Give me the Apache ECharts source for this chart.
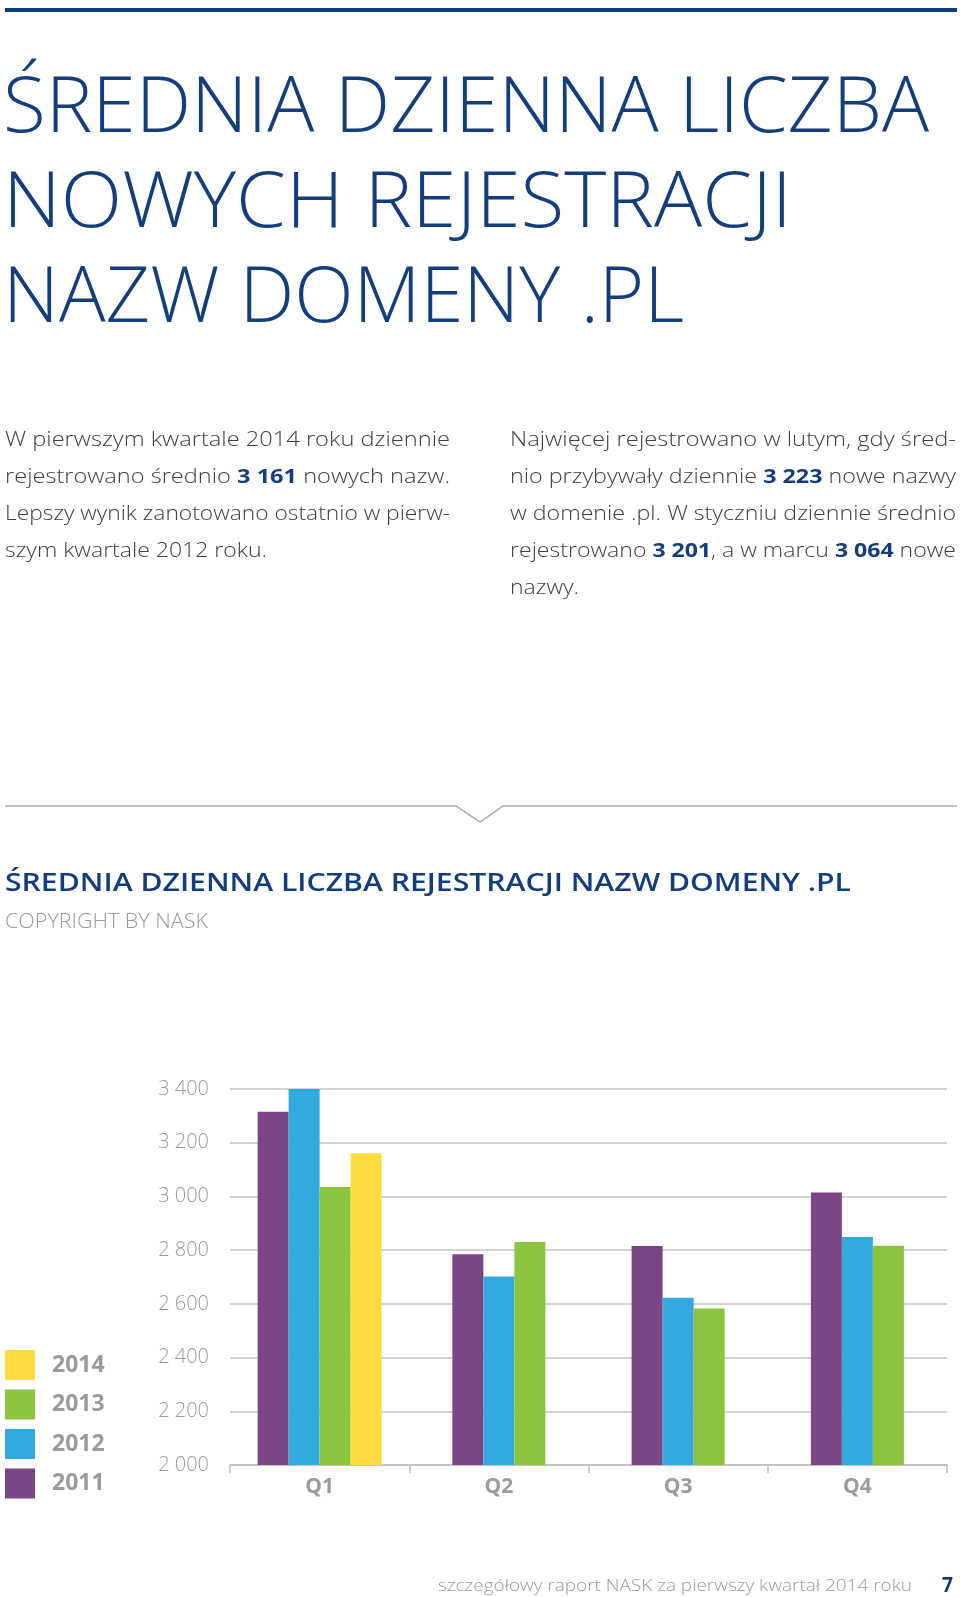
<!DOCTYPE html>
<html><head><meta charset="utf-8">
<script src="https://cdn.jsdelivr.net/npm/echarts@6/dist/echarts.min.js"></script>
<style>html,body{margin:0;padding:0;background:#fff}#c{width:960px;height:1597px}</style>
</head><body><div id="c"></div>
<script>
// ---- data ----
const quarters = ['Q1', 'Q2', 'Q3', 'Q4'];
const legendOrder = ['2014', '2013', '2012', '2011'];
const v2011 = [3315, 2785, 2815, 3015];
const v2012 = [3400, 2702, 2623, 2849];
const v2013 = [3035, 2830, 2583, 2816];
const v2014 = [3161, null, null, null];
const yMin = 2000, yMax = 3400, yStep = 200;

const titleLines = ['ŚREDNIA DZIENNA LICZBA', 'NOWYCH REJESTRACJI', 'NAZW DOMENY .PL'];
const paraLeft = ['W pierwszym kwartale 2014 roku dziennie', 'rejestrowano średnio *3~161* nowych nazw.', 'Lepszy wynik zanotowano ostatnio w pierw-', 'szym kwartale 2012 roku.'];
const paraRight = ['Najwięcej rejestrowano w lutym, gdy śred-', 'nio przybywały dziennie *3~223* nowe nazwy', 'w domenie .pl. W styczniu dziennie średnio', 'rejestrowano *3~201*, a w marcu *3~064* nowe', 'nazwy.'];
const chartTitle = 'ŚREDNIA DZIENNA LICZBA REJESTRACJI NAZW DOMENY .PL';
const copyright = 'COPYRIGHT BY NASK';
const footer = 'szczegółowy raport NASK za pierwszy kwartał 2014 roku';
const pageNo = '7';

const seriesDefs = [
  { name: '2011', values: v2011, color: '#7c4586' },
  { name: '2012', values: v2012, color: '#34a9e0' },
  { name: '2013', values: v2013, color: '#8cc43f' },
  { name: '2014', values: v2014, color: '#fedd43' }
];

// ---- text helpers ----
const FONT = '"Open Sans", "Noto Sans", sans-serif';
const mc = document.createElement('canvas').getContext('2d');
function measure(t, size, weight) { mc.font = weight + ' ' + size + 'px ' + FONT; return mc.measureText(t).width; }
const MID = 0.285;
function textEl(t, x, baseline, size, weight, color, sx) {
  return { type: 'text', x: x, y: baseline - MID * size, scaleX: sx || 1, silent: true,
    style: { text: t, fontSize: size, fontWeight: weight, fontFamily: FONT, fill: color, align: 'left', verticalAlign: 'middle' } };
}
function fitLine(t, x, baseline, size, weight, color, target) {
  return textEl(t, x, baseline, size, weight, color, target / measure(t, size, weight));
}
const DARK = '#143e7b';
const PTEXT = '#404040';
const PSIZE = 20, PW = 300, PB = 700;
function parseWords(str) {
  return str.split(' ').map(w => w.split('*').map((p, i) => ({ t: p.replace(/~/g, ' '), b: i % 2 === 1 })).filter(p => p.t.length));
}
function wordWidth(word) { return word.reduce((s, p) => s + measure(p.t, PSIZE, p.b ? PB : PW), 0); }
function naturalWidth(str) {
  const ws = parseWords(str);
  return ws.reduce((s, w) => s + wordWidth(w), 0) + measure(' ', PSIZE, PW) * (ws.length - 1);
}
function paraLine(str, x, baseline, c, out) {
  const words = parseWords(str);
  const gap = measure(' ', PSIZE, PW) * c;
  let cx = x;
  words.forEach(w => {
    w.forEach(p => {
      const wt = p.b ? PB : PW;
      out.push(textEl(p.t, cx, baseline, PSIZE, wt, p.b ? DARK : PTEXT, c));
      cx += measure(p.t, PSIZE, wt) * c;
    });
    cx += gap;
  });
}

const g = [];
g.push({ type: 'rect', shape: { x: 5, y: 8, width: 952, height: 4 }, style: { fill: '#0e3b7c' }, silent: true });
const tBase = [132, 227, 322], tEnd = [929, 792, 684];
titleLines.forEach((t, i) => g.push(fitLine(t, 3, tBase[i], 77, 300, DARK, tEnd[i] - 3)));
const cLast = 262 / naturalWidth(paraLeft[3]);
const pBase = [446, 483, 520, 557, 594];
paraLeft.forEach((l, i) => {
  const c = i < paraLeft.length - 1 ? 445 / naturalWidth(l) : cLast;
  paraLine(l, 5, pBase[i], c, g);
});
paraRight.forEach((l, i) => {
  const c = i < paraRight.length - 1 ? 446 / naturalWidth(l) : cLast;
  paraLine(l, 510, pBase[i], c, g);
});
g.push({ type: 'polyline', shape: { points: [[5, 806], [456, 806], [480, 822], [503, 806], [957, 806]] }, style: { stroke: '#aaaaaa', lineWidth: 1.5, fill: null }, silent: true });
g.push(fitLine(chartTitle, 5, 891, 25, 600, DARK, 846));
g.push(fitLine(copyright, 5, 928, 20, 300, '#9a9a9a', 203));
g.push(fitLine(footer, 438, 1591, 17, 300, '#9a9a9a', 474));
g.push(fitLine(pageNo, 942, 1592, 22, 700, '#1b3b6b', 11));

// ---- chart ----
const series = [];
seriesDefs.forEach(d => {
  series.push({ name: d.name, type: 'bar', xAxisIndex: 0, barWidth: 31, barGap: '0%', itemStyle: { color: d.color },
    data: d.values.map((v, k) => k === 0 ? v : null) });
});
seriesDefs.forEach(d => {
  const rest = d.values.map((v, k) => k === 0 ? null : v);
  if (rest.some(v => v != null)) {
    series.push({ name: d.name, type: 'bar', xAxisIndex: 1, barWidth: 31, barGap: '0%', itemStyle: { color: d.color }, data: rest });
  }
});

const fmt = v => String(v).replace(/\B(?=(\d{3})+$)/g, ' ');
const chart = echarts.init(document.getElementById('c'), null, { renderer: 'canvas' });
chart.setOption({
  animation: false,
  backgroundColor: '#ffffff',
  grid: { left: 230, right: 13, top: 1089, height: 376, containLabel: false },
  legend: {
    data: legendOrder, orient: 'vertical', left: 5, top: 1350, padding: 0, itemWidth: 30, itemHeight: 30, itemGap: 9.5,
    icon: 'rect', selectedMode: false,
    textStyle: { fontSize: 23, fontWeight: 'bold', color: '#9b9b9b', fontFamily: FONT, padding: [0, 0, 0, 12] }
  },
  xAxis: [
    { type: 'category', data: quarters,
      axisLine: { lineStyle: { color: '#bdbdbd', width: 1.5 } },
      axisTick: { show: true, length: 8, lineStyle: { color: '#bdbdbd', width: 1.5 } },
      axisLabel: { fontSize: 21, fontWeight: 'bold', color: '#9b9b9b', fontFamily: FONT, margin: 12 } },
    { type: 'category', data: quarters, show: false }
  ],
  yAxis: {
    type: 'value', min: yMin, max: yMax, interval: yStep,
    axisLine: { show: false }, axisTick: { show: false },
    axisLabel: { formatter: fmt, fontSize: 20, fontWeight: 300, color: '#9b9b9b', fontFamily: FONT, margin: 21 },
    splitLine: { lineStyle: { color: '#c4c4c4', width: 1.5 } }
  },
  series: series,
  graphic: { elements: g }
});
</script>
</body></html>
